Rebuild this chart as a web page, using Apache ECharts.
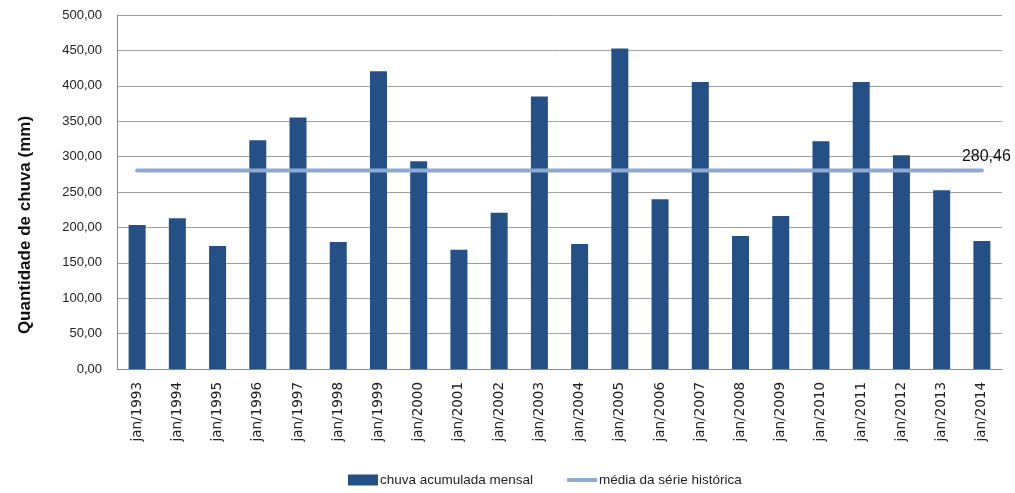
<!DOCTYPE html>
<html>
<head>
<meta charset="utf-8">
<script src="https://cdn.jsdelivr.net/npm/echarts@6/dist/echarts.min.js"></script>
<style>
  html, body { margin: 0; padding: 0; background: #fff; }
  #chart { width: 1015px; height: 493px; }
</style>
</head>
<body>
<div id="chart"></div>
<script>
// dados
const anos = ['jan/1993', 'jan/1994', 'jan/1995', 'jan/1996', 'jan/1997', 'jan/1998',
  'jan/1999', 'jan/2000', 'jan/2001', 'jan/2002', 'jan/2003', 'jan/2004', 'jan/2005',
  'jan/2006', 'jan/2007', 'jan/2008', 'jan/2009', 'jan/2010', 'jan/2011', 'jan/2012',
  'jan/2013', 'jan/2014']
const chuvaMensal = [203.3, 213.0, 173.7, 323.0, 355.4, 179.3, 420.7, 293.4, 168.5, 220.7,
  385.0, 176.5, 452.6, 239.9, 405.2, 187.8, 216.0, 321.6, 405.2, 302.0, 252.6, 180.8]
const mediaHistorica = 280.46
const mediaSerie = anos.map(() => mediaHistorica)
const yTicks = [0, 50, 100, 150, 200, 250, 300, 350, 400, 450, 500]

const fmt = v => v.toFixed(2).replace('.', ',')
const fonte = 'Liberation Sans'

const chart = echarts.init(document.getElementById('chart'))
chart.setOption({
  animation: false,
  textStyle: { fontFamily: fonte },
  grid: { left: 117, right: 13, top: 15, bottom: 124 },
  // título do eixo y (um pouco abaixo do centro, como no original)
  graphic: [{
    type: 'text',
    x: 25,
    y: 225,
    rotation: Math.PI / 2,
    style: {
      text: 'Quantidade de chuva (mm)',
      fontFamily: fonte,
      fontSize: 17,
      fontWeight: 'bold',
      fill: '#111',
      align: 'center',
      verticalAlign: 'middle'
    }
  }],
  legend: {
    bottom: 1,
    left: 343,
    itemGap: 34,
    itemWidth: 30,
    itemHeight: 11,
    textStyle: { fontSize: 13.5, color: '#222', padding: [0, 0, 0, -3] },
    data: [
      { name: 'chuva acumulada mensal', icon: 'rect' },
      { name: 'média da série histórica', icon: 'path://M0,0 L30,0 L30,4 L0,4 Z' }
    ]
  },
  xAxis: {
    type: 'category',
    data: anos,
    axisLine: { show: true, lineStyle: { color: '#888' } },
    axisTick: { show: false },
    axisLabel: { rotate: 90, fontSize: 13.5, fontFamily: 'DejaVu Sans', color: '#222', margin: 13, interval: 0 }
  },
  yAxis: {
    type: 'value',
    min: yTicks[0],
    max: yTicks[yTicks.length - 1],
    interval: 50,
    axisLine: { show: true, lineStyle: { color: '#888' } },
    axisTick: { show: false },
    axisLabel: { fontSize: 13, color: '#222', margin: 15, formatter: fmt },
    splitLine: { lineStyle: { color: '#a0a0a0' } }
  },
  series: [
    {
      name: 'chuva acumulada mensal',
      type: 'bar',
      data: chuvaMensal,
      barWidth: 17,
      itemStyle: { color: '#255086' }
    },
    {
      name: 'média da série histórica',
      type: 'line',
      data: mediaSerie,
      symbol: 'none',
      lineStyle: { color: '#8eaad4', width: 4, cap: 'round' },
      itemStyle: { color: '#8eaad4' },
      endLabel: {
        show: true,
        formatter: () => fmt(mediaHistorica),
        fontSize: 16,
        color: '#111',
        offset: [-28, -14]
      },
      z: 3
    }
  ]
})
</script>
</body>
</html>
